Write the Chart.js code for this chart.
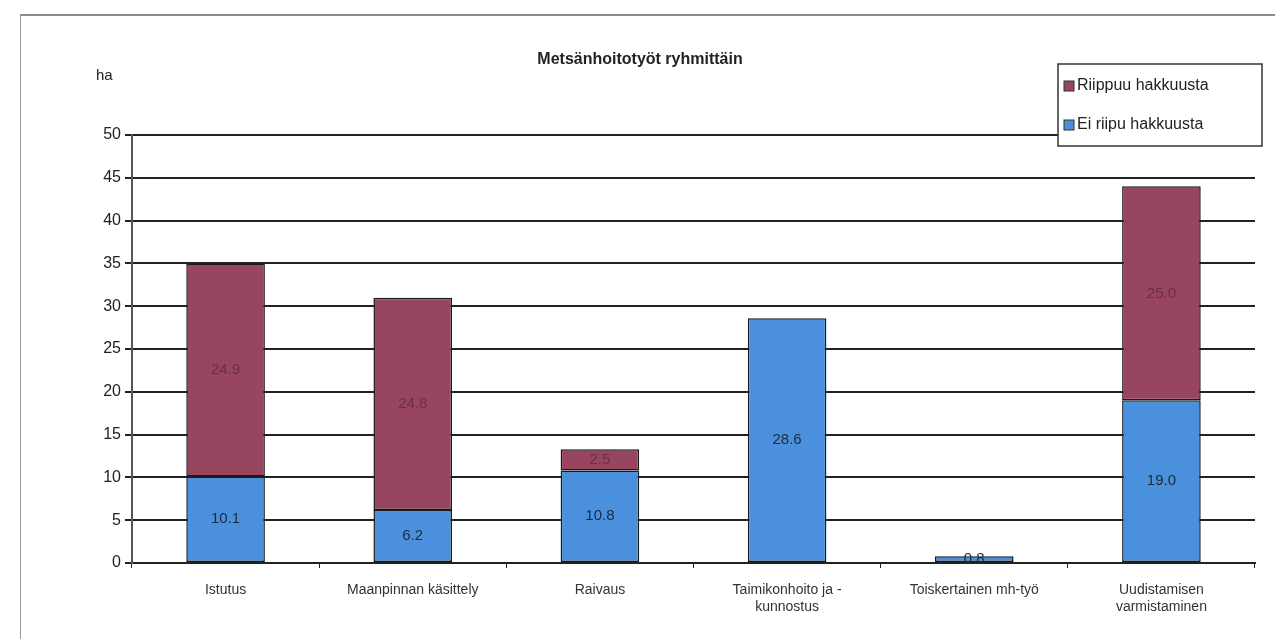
<!DOCTYPE html>
<html>
<head>
<meta charset="utf-8">
<script src="https://cdn.jsdelivr.net/npm/chart.js@4"></script>
<style>
  body { margin: 0; background: #fff; }
  #wrap { position: relative; width: 1275px; height: 639px; }
  #frame { position: absolute; left: 20px; top: 14px; width: 1260px; height: 640px;
           border-left: 1px solid #9a9a9a; border-top: 2px solid #8a8a8a; }
  canvas { position: absolute; left: 0; top: 0; }
</style>
</head>
<body>
<div id="wrap">
  <div id="frame"></div>
  <canvas id="myChart" width="1275" height="639"></canvas>
</div>
<script>
var categories = ["Istutus", "Maanpinnan käsittely", "Raivaus", ["Taimikonhoito ja -", "kunnostus"], "Toiskertainen mh-työ", ["Uudistamisen", "varmistaminen"]];
var eiRiipu = [10.1, 6.2, 10.8, 28.6, 0.8, 19.0];
var riippuu = [24.9, 24.8, 2.5, 0, 0, 25.0];
var yTicks = [0, 5, 10, 15, 20, 25, 30, 35, 40, 45, 50];

var FONT = "'Liberation Sans', Arial, sans-serif";

// value labels in the middle of each segment
var valueLabels = {
  id: 'valueLabels',
  afterDatasetsDraw: function(chart) {
    var ctx = chart.ctx;
    ctx.save();
    ctx.font = "15px " + FONT;
    ctx.textAlign = 'center';
    ctx.textBaseline = 'middle';
    chart.data.datasets.forEach(function(ds, i) {
      var meta = chart.getDatasetMeta(i);
      meta.data.forEach(function(bar, j) {
        var v = ds.data[j];
        if (!v) return;
        var y = (bar.y + bar.base) / 2;
        ctx.fillStyle = i === 0 ? '#1e2a3a' : '#6a3046';
        ctx.fillText(v.toFixed(1), bar.x, y);
      });
    });
    ctx.restore();
  }
};

// title, unit and boxed legend
var extras = {
  id: 'extras',
  afterDraw: function(chart) {
    var ctx = chart.ctx;
    ctx.save();
    ctx.fillStyle = '#222';
    ctx.font = "bold 16px " + FONT;
    ctx.textAlign = 'center';
    ctx.textBaseline = 'middle';
    ctx.fillText("Metsänhoitotyöt ryhmittäin", 640, 60);
    ctx.font = "15px " + FONT;
    ctx.textAlign = 'left';
    ctx.fillText("ha", 96, 76);

    // legend
    ctx.fillStyle = '#fff';
    ctx.fillRect(1058, 64, 204, 82);
    ctx.strokeStyle = '#333';
    ctx.lineWidth = 1.5;
    ctx.strokeRect(1058, 64, 204, 82);
    var items = [chart.data.datasets[1], chart.data.datasets[0]];
    items.forEach(function(ds, k) {
      var y = 86 + k * 39;
      ctx.fillStyle = ds.backgroundColor;
      ctx.fillRect(1064, y - 5, 10, 10);
      ctx.strokeStyle = '#333';
      ctx.lineWidth = 1;
      ctx.strokeRect(1064, y - 5, 10, 10);
      ctx.fillStyle = '#222';
      ctx.font = "16px " + FONT;
      ctx.fillText(ds.label, 1077, y);
    });
    ctx.restore();
  }
};

var chart = new Chart(document.getElementById("myChart"), {
  type: 'bar',
  data: {
    labels: categories,
    datasets: [
      {
        label: "Ei riipu hakkuusta",
        data: eiRiipu,
        backgroundColor: '#4a90dc',
        borderColor: '#1a1a1a',
        borderWidth: 1.5,
        borderSkipped: false,
        categoryPercentage: 1,
        barPercentage: 0.42
      },
      {
        label: "Riippuu hakkuusta",
        data: riippuu,
        backgroundColor: '#984560',
        borderColor: '#1a1a1a',
        borderWidth: 1.5,
        borderSkipped: false,
        categoryPercentage: 1,
        barPercentage: 0.42
      }
    ]
  },
  options: {
    responsive: false,
    animation: false,
    layout: { padding: { left: 80, top: 135, right: 20, bottom: 20 } },
    plugins: {
      legend: { display: false },
      title: { display: false },
      tooltip: { enabled: false }
    },
    scales: {
      x: {
        stacked: true,
        afterFit: function(s) { s.height = 56; },
        grid: { display: true, drawOnChartArea: false, color: '#222', tickLength: 5, offset: true },
        border: { color: '#222', width: 2 },
        ticks: { color: '#333', font: { family: FONT, size: 14 }, maxRotation: 0, autoSkip: false, padding: 14 }
      },
      y: {
        stacked: true,
        min: 0,
        max: 50,
        afterFit: function(s) { s.width = 52; },
        afterBuildTicks: function(s) { s.ticks = yTicks.map(function(v) { return { value: v }; }); },
        grid: { color: '#222', lineWidth: 2, tickLength: 7 },
        border: { color: '#555', width: 2 },
        ticks: { color: '#222', font: { family: FONT, size: 16 }, padding: 4 }
      }
    }
  },
  plugins: [valueLabels, extras]
});
</script>
</body>
</html>
